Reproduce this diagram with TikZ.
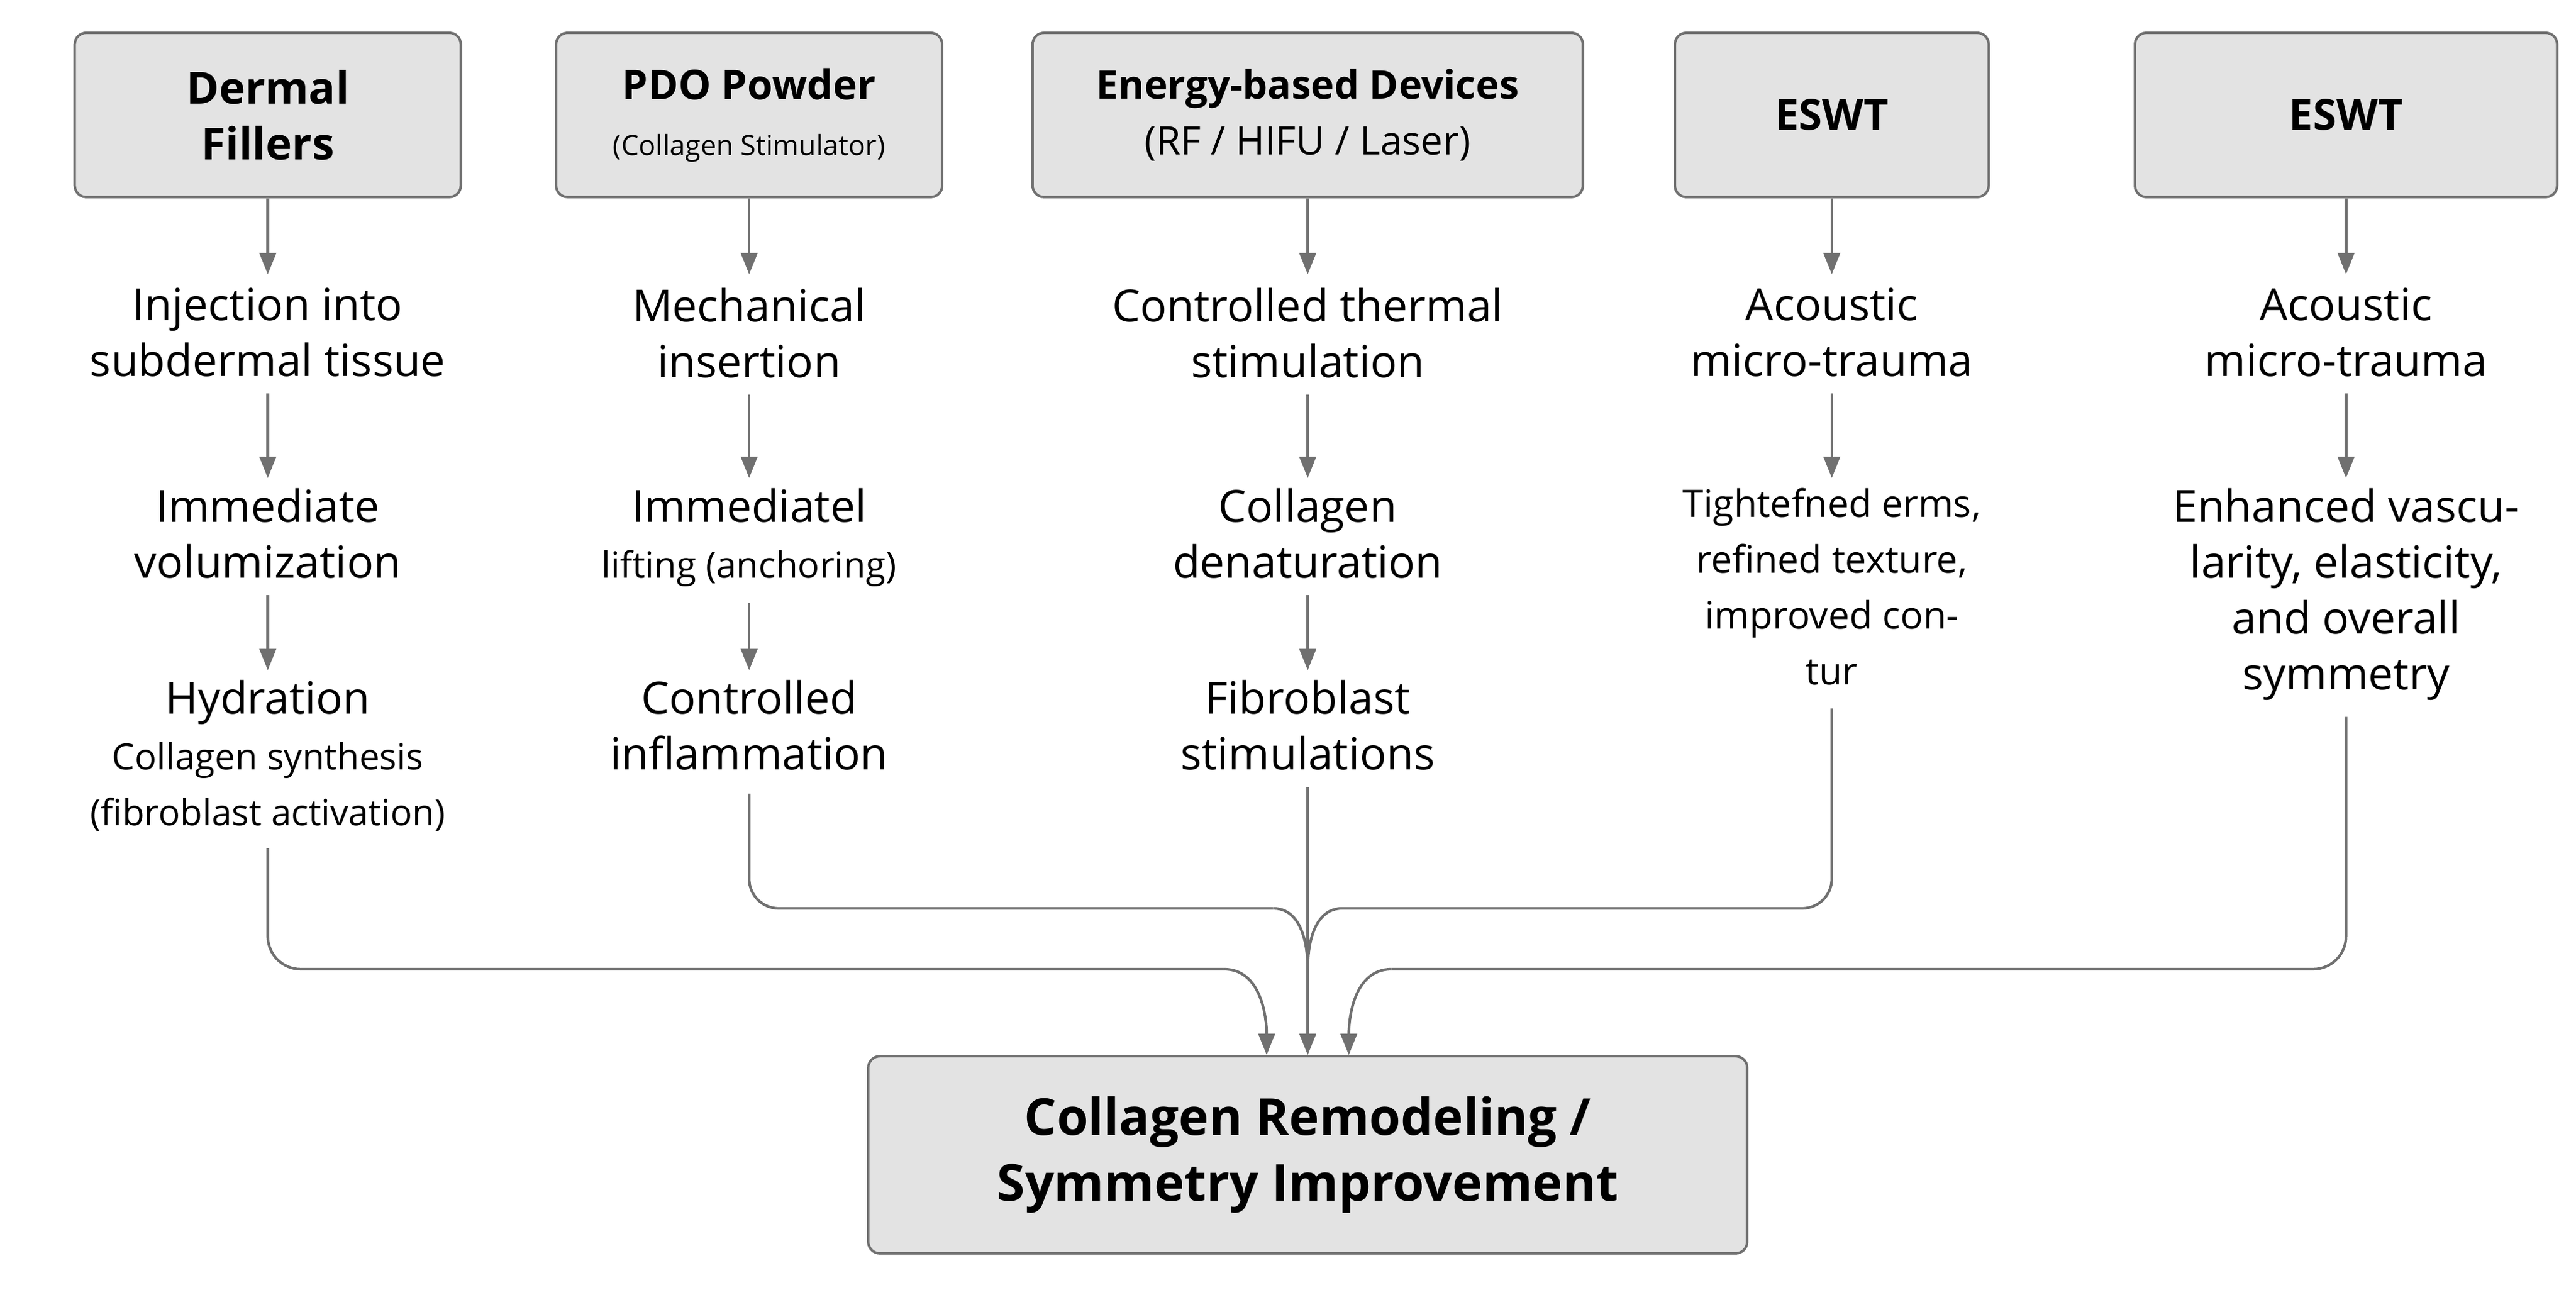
\documentclass[tikz,border=0pt]{standalone}
\usepackage{fontspec}
\setmainfont{Open Sans}
\usetikzlibrary{arrows.meta}
\definecolor{ln}{RGB}{112,112,112}
\definecolor{bx}{RGB}{227,227,227}
\begin{document}
\begin{tikzpicture}[x=1pt,y=1pt,
 box/.style={draw=ln,line width=1.5pt,fill=bx,rounded corners=7pt,align=center,inner sep=0pt},
 txt/.style={align=center,anchor=north,inner sep=0pt,font=\fontsize{27}{34}\selectfont},
 arr/.style={draw=ln,line width=1.6pt,-{Triangle[width=10pt,length=13pt]}},
 ln/.style={draw=ln,line width=1.6pt}]
\useasboundingbox (0,0) rectangle (1568,-785);
% boxes
\node[box,minimum width=235,minimum height=100,font=\bfseries\fontsize{27}{34}\selectfont] (b1) at (163,-70) {Dermal\\Fillers};
\node[box,minimum width=235,minimum height=100,font=\bfseries\fontsize{25}{34}\selectfont] (b2) at (456,-70) {PDO Powder\\{\mdseries\fontsize{17}{22}\selectfont (Collagen Stimulator)}};
\node[box,minimum width=335,minimum height=100,font=\fontsize{24}{34}\selectfont] (b3) at (796,-70) {\textbf{Energy-based Devices}\\(RF / HIFU / Laser)};
\node[box,minimum width=191,minimum height=100,font=\bfseries\fontsize{26}{34}\selectfont] (b4) at (1115,-70) {ESWT};
\node[box,minimum width=257,minimum height=100,font=\bfseries\fontsize{26}{34}\selectfont] (b5) at (1428,-70) {ESWT};
% column 1
\node[txt] (t11) at (163,-175) {Injection into\\subdermal tissue};
\node[txt] (t12) at (163,-297) {Immediate\\volumization};
\node[txt] (t13) at (163,-414) {Hydration\\{\fontsize{22}{34}\selectfont Collagen synthesis}\\{\fontsize{22}{34}\selectfont (fibroblast activation)}};
% column 2
\node[txt] (t21) at (456,-175) {Mechanical\\insertion};
\node[txt] (t22) at (456,-297) {Immediatel\\{\fontsize{22}{34}\selectfont lifting (anchoring)}};
\node[txt] (t23) at (456,-414) {Controlled\\inflammation};
% column 3
\node[txt] (t31) at (796,-175) {Controlled thermal\\stimulation};
\node[txt] (t32) at (796,-297) {Collagen\\denaturation};
\node[txt] (t33) at (796,-414) {Fibroblast\\stimulations};
% column 4
\node[txt] (t41) at (1115,-175) {Acoustic\\micro-trauma};
\node[txt,font=\fontsize{23}{34}\selectfont] (t42) at (1115,-297) {Tightefned erms,\\refined texture,\\improved con-\\tur};
% column 5
\node[txt] (t51) at (1428,-175) {Acoustic\\micro-trauma};
\node[txt] (t52) at (1428,-297) {Enhanced vascu-\\larity, elasticity,\\and overall\\symmetry};
% final
\node[box,minimum width=535,minimum height=120,font=\bfseries\fontsize{31}{40}\selectfont] (fin) at (796,-703) {Collagen Remodeling /\\Symmetry Improvement};
% vertical arrows
\foreach \a/\b in {b1/t11,b2/t21,b3/t31,b4/t41,b5/t51}{
 \draw[arr,shorten >=8pt] (\a.south) -- (\b.north);}
\foreach \a/\b in {t11/t12,t12/t13,t21/t22,t22/t23,t31/t32,t32/t33,t41/t42,t51/t52}{
 \draw[arr,shorten <=10pt,shorten >=6pt] (\a.south) -- (\b.north);}
% merging connectors
\coordinate (cL) at (745,-590);
\coordinate (cR) at (847,-590);
\coordinate (mL) at (775,-553);
\coordinate (mR) at (817,-553);
\coordinate (mC) at (796,-590);
\draw[ln,rounded corners=20pt,shorten <=10pt] (t13.south) |- (cL);
\draw[arr] (cL) to[out=0,in=90] ([xshift=-25pt]fin.north);
\draw[ln,rounded corners=20pt,shorten <=10pt] (t52.south) |- (cR);
\draw[arr] (cR) to[out=180,in=90] ([xshift=25pt]fin.north);
\draw[ln,rounded corners=18pt,shorten <=14pt] (t23.south) |- (mL);
\draw[ln] (mL) to[out=0,in=90] (mC);
\draw[ln,rounded corners=18pt,shorten <=14pt] (t42.south) |- (mR);
\draw[ln] (mR) to[out=180,in=90] (mC);
\draw[arr,shorten <=10pt] (t33.south) -- (fin.north);
\end{tikzpicture}
\end{document}
